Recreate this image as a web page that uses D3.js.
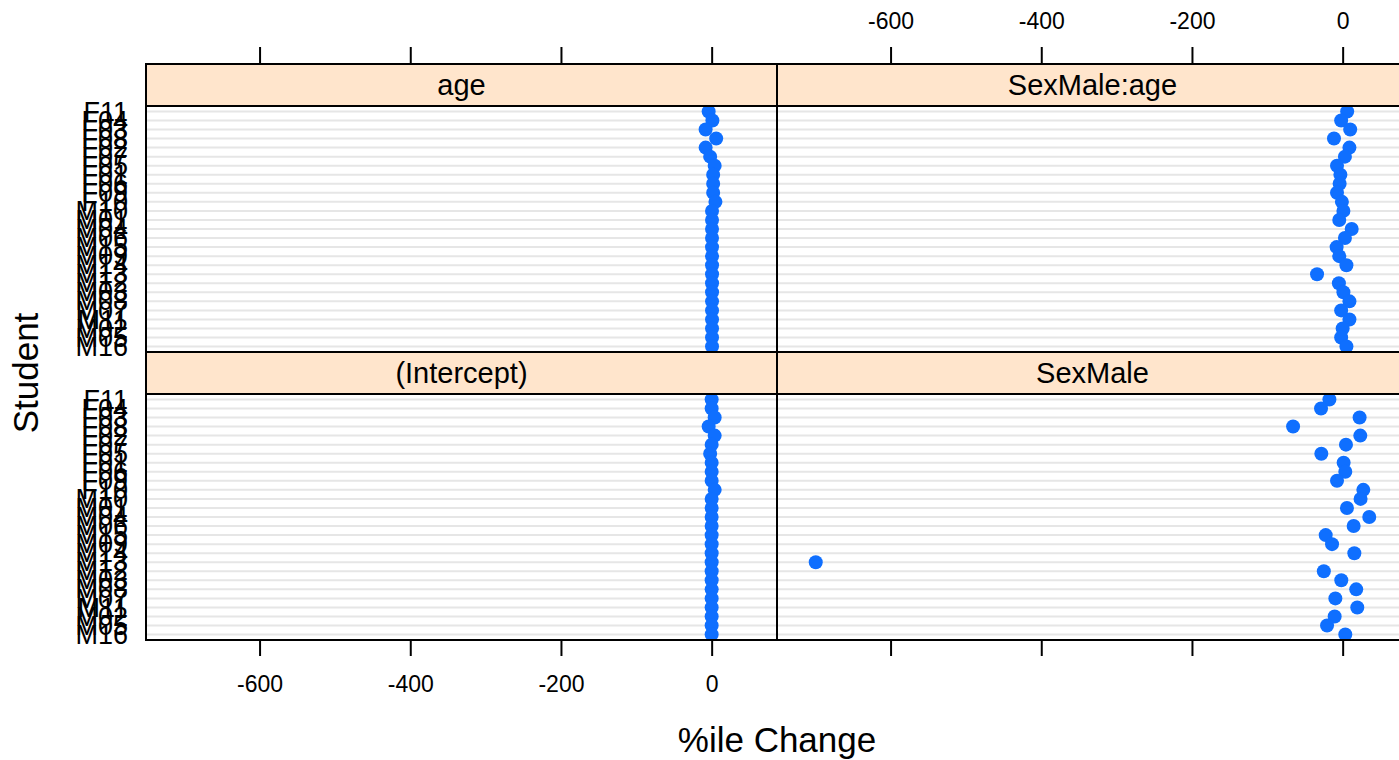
<!DOCTYPE html>
<html>
<head>
<meta charset="utf-8">
<script src="https://cdn.jsdelivr.net/npm/d3@7"></script>
<style>
  body { margin: 0; background: #fff; }
  svg { display: block; font-family: "Liberation Sans", Arial, sans-serif; }
</style>
</head>
<body>
<svg id="chart" width="1399" height="760"></svg>
<script>
// students, top row to bottom row
var students = ["F11","F04","F03","F08","F02","F07","F05","F01","F06","F09","F10",
  "M10","M01","M04","M06","M15","M09","M14","M13","M12","M03","M08","M07","M11","M02","M05","M16"];

var ageVals = [-4, 1, -8, 6, -8, -2, 4, 2, 2, 2, 5,
  0.5, 0.5, 0.5, 0.5, 0.5, 0.5, 0.5, 0.5, 0.5, 0.5, 0.5, 0.5, 0.5, 0.5, 0.5, 0.5];
var sexAgeVals = [6, -2, 10, -11.5, 9, 3, -7.5, -3, -4, -7.5, -1,
  1, -4.5, 12, 3, -8, -4.5, 5, -34, -5, 1, 9, -2, 9, 0, -2, 5];
var interceptVals = [0, 0, 4, -4, 4, 0, -2, 0, 0, 0, 4,
  0, 0, 0, 0, 0, 0, 0, 0, 0, 0, 0, 0, 0, 0, 0, 0];
var sexVals = [-17.6, -28.7, 22.5, -65.8, 23.4, 4.4, -28.3, 1.3, 3.5, -7.5, 27.4,
  23.8, 5.7, 35.3, 14.6, -22.5, -14.1, 15.5, -699.3, -25, -1.8, 18, -9.7, 19.4, -10.6, -20.7, 3.5];

var tickVals = [-600, -400, -200, 0];

var panels = [
  { name: "age", col: 0, row: 0, vals: ageVals },
  { name: "SexMale:age", col: 1, row: 0, vals: sexAgeVals },
  { name: "(Intercept)", col: 0, row: 1, vals: interceptVals },
  { name: "SexMale", col: 1, row: 1, vals: sexVals }
];

var svg = d3.select("#chart");

var left = 146, panelW = 631, stripH = 42, panelH = 246, top0 = 64;
var dotCol = "#0f6fff";
var fmt = function(d) { return String(d); };   // plain hyphen like R
var blank = function() { return ""; };

// lattice-style 7% padding on data range
var all = ageVals.concat(sexAgeVals, interceptVals, sexVals);
var ext = d3.extent(all), pad = (ext[1] - ext[0]) * 0.07;

var x0 = d3.scaleLinear().domain([ext[0] - pad, ext[1] + pad]).range([left, left + panelW]);
var x1 = d3.scaleLinear().domain(x0.domain()).range([left + panelW, left + 2 * panelW]);
var xs = [x0, x1];

var defs = svg.append("defs");

panels.forEach(function(p, i) {
  var x = xs[p.col];
  var sTop = top0 + p.row * (stripH + panelH);
  var pTop = sTop + stripH;
  var y = d3.scalePoint().domain(students).range([pTop, pTop + panelH]).padding(0.6);

  defs.append("clipPath").attr("id", "clip" + i)
    .append("rect").attr("x", x.range()[0]).attr("y", pTop)
    .attr("width", panelW).attr("height", panelH);

  var g = svg.append("g");

  // dot lines
  g.append("g").attr("clip-path", "url(#clip" + i + ")")
    .selectAll("line").data(students).enter().append("line")
    .attr("x1", x.range()[0]).attr("x2", x.range()[1])
    .attr("y1", function(d) { return y(d); })
    .attr("y2", function(d) { return y(d); })
    .attr("stroke", "#e6e6e6").attr("stroke-width", 2);

  g.append("g").attr("clip-path", "url(#clip" + i + ")")
    .selectAll("circle").data(p.vals).enter().append("circle")
    .attr("cx", function(d) { return x(d); })
    .attr("cy", function(d, j) { return y(students[j]); })
    .attr("r", 7)
    .attr("fill", dotCol);

  // strip
  g.append("rect").attr("x", x.range()[0]).attr("y", sTop)
    .attr("width", panelW).attr("height", stripH)
    .attr("fill", "#ffe5cc").attr("stroke", "#000").attr("stroke-width", 2);
  g.append("text").attr("x", x.range()[0] + panelW / 2).attr("y", sTop + stripH / 2 + 10)
    .attr("text-anchor", "middle").attr("font-size", 29).text(p.name);

  // panel border
  g.append("rect").attr("x", x.range()[0]).attr("y", pTop)
    .attr("width", panelW).attr("height", panelH)
    .attr("fill", "none").attr("stroke", "#000").attr("stroke-width", 2);

  // y labels on left column
  if (p.col === 0) {
    var ya = svg.append("g").attr("transform", "translate(" + left + ",0)")
      .call(d3.axisLeft(y).tickSize(0).tickPadding(18));
    ya.select(".domain").remove();
    ya.selectAll("text").attr("font-size", 27).attr("font-family", "Liberation Sans, Arial, sans-serif")
      .attr("fill", "#000");
  }

  // top axis on top row, labels only on right column
  if (p.row === 0) {
    var ta = svg.append("g").attr("transform", "translate(0," + sTop + ")")
      .call(d3.axisTop(x).tickValues(tickVals).tickSize(17).tickPadding(18)
        .tickFormat(p.col === 1 ? fmt : blank));
    ta.select(".domain").remove();
    ta.selectAll("line").attr("stroke", "#000").attr("stroke-width", 2);
    ta.selectAll("text").attr("font-size", 23).attr("font-family", "Liberation Sans, Arial, sans-serif")
      .attr("fill", "#000");
  }

  // bottom axis on bottom row, labels only on left column
  if (p.row === 1) {
    var ba = svg.append("g").attr("transform", "translate(0," + (pTop + panelH) + ")")
      .call(d3.axisBottom(x).tickValues(tickVals).tickSize(16).tickPadding(20)
        .tickFormat(p.col === 0 ? fmt : blank));
    ba.select(".domain").remove();
    ba.selectAll("line").attr("stroke", "#000").attr("stroke-width", 2);
    ba.selectAll("text").attr("font-size", 23).attr("font-family", "Liberation Sans, Arial, sans-serif")
      .attr("fill", "#000");
  }
});

// axis titles
svg.append("text").attr("x", left + panelW).attr("y", 752)
  .attr("text-anchor", "middle").attr("font-size", 35).text("%ile Change");
svg.append("text").attr("transform", "translate(38,373) rotate(-90)")
  .attr("text-anchor", "middle").attr("font-size", 35).text("Student");
</script>
</body>
</html>
